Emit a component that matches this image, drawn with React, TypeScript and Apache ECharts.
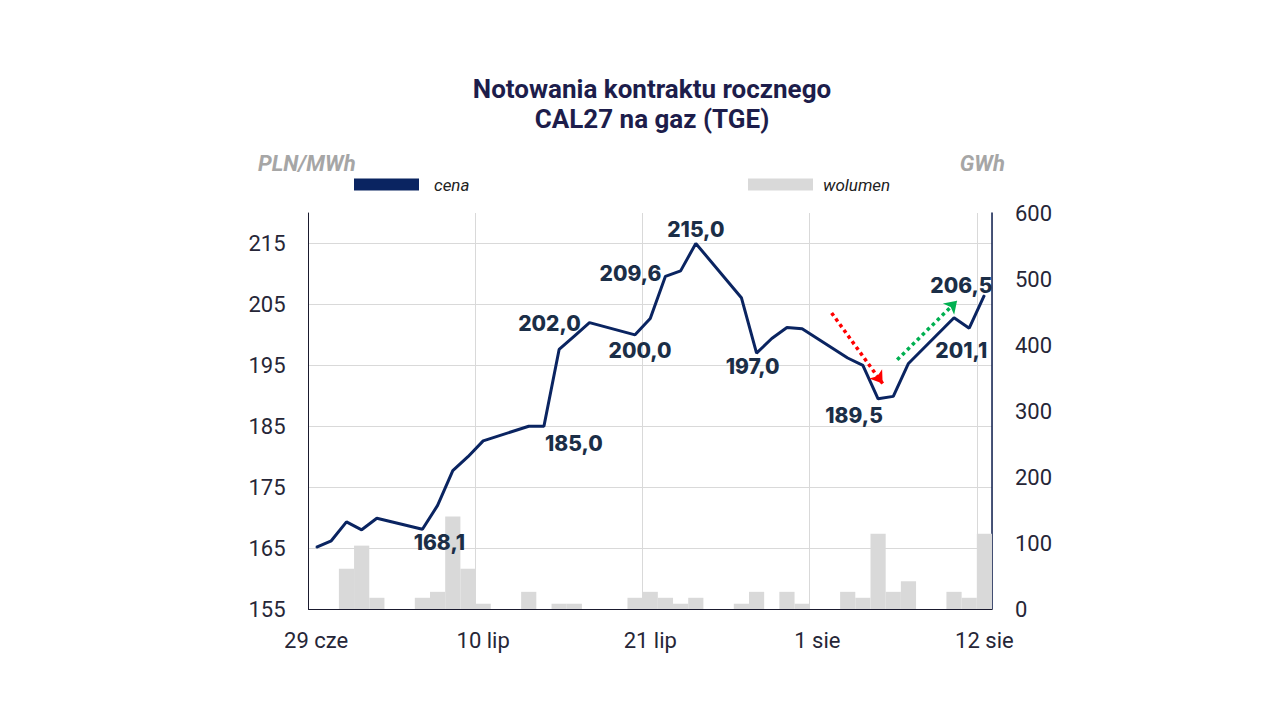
import React, { useEffect, useRef } from 'react';
import * as echarts from 'echarts';

// ---- data ----
const categories: string[] = [
  '29 cze', '30 cze',
  '1 lip', '2 lip', '3 lip', '4 lip', '5 lip', '6 lip', '7 lip', '8 lip', '9 lip', '10 lip',
  '11 lip', '12 lip', '13 lip', '14 lip', '15 lip', '16 lip', '17 lip', '18 lip', '19 lip', '20 lip',
  '21 lip', '22 lip', '23 lip', '24 lip', '25 lip', '26 lip', '27 lip', '28 lip', '29 lip', '30 lip', '31 lip',
  '1 sie', '2 sie', '3 sie', '4 sie', '5 sie', '6 sie', '7 sie', '8 sie', '9 sie', '10 sie', '11 sie', '12 sie',
];

// PLN/MWh (null = no session)
const priceValues: (number | null)[] = [
  165.1, 166.2, 169.3, 168.0, 169.9, null, null,
  168.1, 172.0, 177.7, 180.0, 182.6, null, null,
  185.0, 185.0, 197.6, 199.8, 202.0, null, null,
  200.0, 202.7, 209.6, 210.5, 215.0, null, null,
  206.1, 197.0, 199.4, 201.2, 201.0, null, null,
  196.2, 195.0, 189.5, 189.9, 195.3, null, null,
  202.8, 201.1, 206.5,
];

// GWh
const volumeValues: (number | null)[] = [
  null, null, 61, 96, 17, null, null,
  17, 26, 140, 61, 8, null, null,
  26, null, 8, 8, null, null, null,
  17, 26, 17, 8, 17, null, null,
  8, 26, null, 26, 8, null, null,
  26, 17, 114, 26, 42, null, null,
  26, 17, 114,
];

const leftTicks = { min: 155, max: 220, interval: 10 };
const rightTicks = { min: 0, max: 600, interval: 100 };

// annotation arrows in data units [dayIndex, PLN/MWh]
const arrowDown: [number, number][] = [[33.94, 203.6], [37.3, 192.0]];
const arrowUp: [number, number][] = [[38.26, 195.9], [42.2, 205.6]];

// label placement (pixel offsets from point) for labelled points
const labelOffsets: Record<number, [number, number]> = {
  7: [17, 13],
  15: [30, 17],
  18: [-40, 1],
  21: [5, 16],
  23: [-35, -3],
  25: [0, -14],
  29: [-4, 13],
  37: [-24, 17],
  43: [-8, 22],
  44: [-23, -10],
};

const LINE = '#0a2461';
const BAR = '#d9d9d9';
const AXIS_TEXT = '#262637';
const LABEL_TEXT = '#1b2e47';

function buildOption(): any {
  const lineData = priceValues.map((v, i) => {
    if (v == null) return null;
    const off = labelOffsets[i];
    if (off) return { value: v, label: { show: true, offset: off } };
    return v;
  });

  return {
    animation: false,
    backgroundColor: '#ffffff',
    grid: { left: 308.5, right: 288, top: 213, bottom: 111, containLabel: false },
    graphic: [
      {
        type: 'text',
        x: 652,
        y: 74,
        style: {
          text: 'Notowania kontraktu rocznego\nCAL27 na gaz (TGE)',
          font: 'bold 26px Roboto',
          fill: '#1d1d4b',
          textAlign: 'center',
          lineHeight: 30,
        },
      },
      {
        type: 'text',
        x: 258,
        y: 163,
        style: {
          text: 'PLN/MWh',
          font: 'italic bold 22px Roboto',
          fill: '#a6a6a6',
          textAlign: 'left',
          textVerticalAlign: 'middle',
        },
      },
      {
        type: 'text',
        x: 1005,
        y: 163,
        style: {
          text: 'GWh',
          font: 'italic bold 22px Roboto',
          fill: '#a6a6a6',
          textAlign: 'right',
          textVerticalAlign: 'middle',
        },
      },
    ],
    legend: [
      {
        data: ['cena'],
        left: 354,
        top: 176,
        icon: 'rect',
        itemWidth: 65,
        itemHeight: 12,
        padding: 0,
        selectedMode: false,
        textStyle: { fontFamily: 'Roboto', fontStyle: 'italic', fontSize: 17, color: '#222222', padding: [0, 0, 0, 10] },
      },
      {
        data: ['wolumen'],
        left: 748,
        top: 176,
        icon: 'rect',
        itemWidth: 65,
        itemHeight: 12,
        padding: 0,
        selectedMode: false,
        textStyle: { fontFamily: 'Roboto', fontStyle: 'italic', fontSize: 17, color: '#222222', padding: [0, 0, 0, 5] },
      },
    ],
    xAxis: [
      {
        type: 'category',
        data: categories,
        boundaryGap: true,
        axisLine: { show: true, onZero: false, lineStyle: { color: '#1a1a2e', width: 1 } },
        axisTick: { show: false },
        axisLabel: {
          interval: 10,
          margin: 20,
          fontFamily: 'Roboto',
          fontSize: 22,
          color: AXIS_TEXT,
        },
        splitLine: { show: true, interval: 10, lineStyle: { color: '#d9d9d9', width: 1 } },
      },
      {
        type: 'value',
        min: -0.5,
        max: 44.5,
        show: false,
      },
    ],
    yAxis: [
      {
        type: 'value',
        min: leftTicks.min,
        max: leftTicks.max,
        interval: leftTicks.interval,
        position: 'left',
        axisLine: { show: true, onZero: false, lineStyle: { color: '#1a1a2e', width: 1 } },
        axisTick: { show: false },
        axisLabel: {
          margin: 23,
          fontFamily: 'Roboto',
          fontSize: 22,
          color: AXIS_TEXT,
          formatter: (v: number) => (v >= leftTicks.max ? '' : String(v)),
        },
        splitLine: { show: true, showMaxLine: false, lineStyle: { color: '#d9d9d9', width: 1 } },
      },
      {
        type: 'value',
        min: rightTicks.min,
        max: rightTicks.max,
        interval: rightTicks.interval,
        position: 'right',
        axisLine: { show: true, onZero: false, lineStyle: { color: '#0f1f4f', width: 1.5 } },
        axisTick: { show: false },
        axisLabel: {
          margin: 23,
          fontFamily: 'Roboto',
          fontSize: 22,
          color: AXIS_TEXT,
        },
        splitLine: { show: false },
      },
    ],
    series: [
      {
        name: 'wolumen',
        type: 'bar',
        xAxisIndex: 0,
        yAxisIndex: 1,
        data: volumeValues,
        barCategoryGap: '0%',
        itemStyle: { color: BAR },
        z: 1,
      },
      {
        name: 'cena',
        type: 'line',
        xAxisIndex: 0,
        yAxisIndex: 0,
        data: lineData,
        connectNulls: true,
        symbol: 'circle',
        symbolSize: 1,
        showSymbol: true,
        lineStyle: { color: LINE, width: 3 },
        itemStyle: { color: LINE },
        label: {
          show: false,
          position: 'inside',
          formatter: (p: any) => Number(p.value).toFixed(1).replace('.', ','),
          fontFamily: 'Inter',
          fontWeight: 800,
          fontSize: 21,
          color: LABEL_TEXT,
        },
        z: 3,
      },
      {
        type: 'lines',
        coordinateSystem: 'cartesian2d',
        xAxisIndex: 1,
        yAxisIndex: 0,
        polyline: false,
        silent: true,
        symbol: ['none', 'arrow'],
        symbolSize: 12,
        lineStyle: { type: 'dotted', width: 3.5, opacity: 1, curveness: 0 },
        data: [
          { coords: arrowDown, lineStyle: { color: '#ff0000' }, itemStyle: { color: '#ff0000' } },
          { coords: arrowUp, lineStyle: { color: '#00b050' }, itemStyle: { color: '#00b050' } },
        ],
        z: 4,
      },
    ],
  };
}

export default function App() {
  const ref = useRef<HTMLDivElement>(null);
  useEffect(() => {
    if (!ref.current) return;
    const chart = echarts.init(ref.current, undefined, { renderer: 'svg' });
    chart.setOption(buildOption());
    return () => chart.dispose();
  }, []);
  return (
    <div
      ref={ref}
      style={{ position: 'fixed', left: 0, top: 0, width: 1280, height: 720, background: '#ffffff' }}
    />
  );
}
